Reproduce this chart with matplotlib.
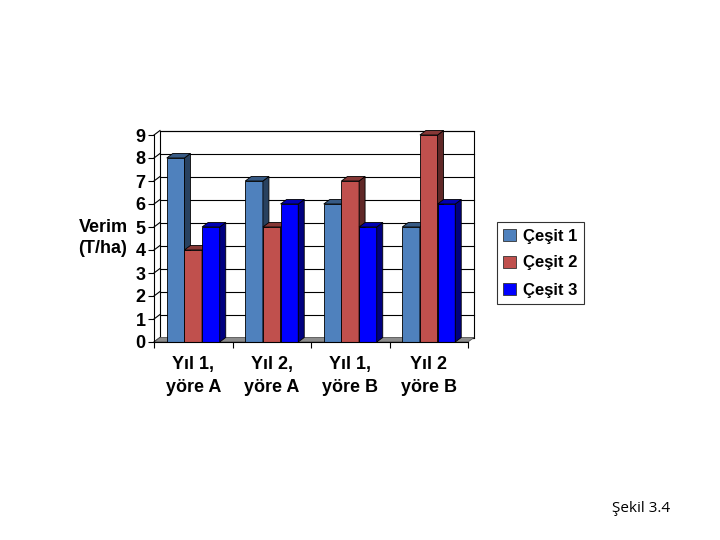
import numpy as np
import matplotlib
matplotlib.use('Agg')
import matplotlib.pyplot as plt
from matplotlib.patches import Polygon, Rectangle, Patch
from matplotlib.colors import to_rgb

# Data
categories = ['Yıl 1,\nyöre A', 'Yıl 2,\nyöre A', 'Yıl 1,\nyöre B', 'Yıl 2\nyöre B']
cesit1 = [8, 7, 6, 5]
cesit2 = [4, 5, 7, 9]
cesit3 = [5, 6, 5, 6]
seriesNames = ['Çeşit 1', 'Çeşit 2', 'Çeşit 3']
colors = ['#4F81BD', '#C0504D', '#0000FF']
yTicks = list(range(0, 10))

plt.rcParams['font.family'] = ['Liberation Sans', 'DejaVu Sans']

fig = plt.figure(figsize=(7.2, 5.4), dpi=100)
# axes = front plane of the 3D box (pixels: x 154..468, y 342..135)
ax = fig.add_axes([154 / 720, (540 - 342) / 540, (468 - 154) / 720, (342 - 135) / 540])
ax.set_xlim(0, 4)
ax.set_ylim(0, 9)

# depth offset in data units
dx = 6 / 78.5
dy = 4.5 / 23.0


def shade(c, f):
    r, g, b = to_rgb(c)
    return (r * f, g * f, b * f)


# Back wall + gridlines
ax.add_patch(Rectangle((dx, dy), 4, 9, facecolor='white', edgecolor='black', lw=0.8, clip_on=False, zorder=0))
for k in yTicks:
    ax.plot([dx, 4 + dx], [k + dy, k + dy], color='black', lw=0.8, clip_on=False, zorder=1)
    ax.plot([0, dx], [k, k + dy], color='black', lw=0.8, clip_on=False, zorder=1)

# Floor
ax.add_patch(Polygon([(0, 0), (4, 0), (4 + dx, dy), (dx, dy)], closed=True,
                     facecolor='#8c8c8c', edgecolor='#555555', lw=0.6, clip_on=False, zorder=2))

# Bars with 3D side/top faces
w = 0.225
allSeries = [cesit1, cesit2, cesit3]
z = 3
for i in range(len(categories)):
    for j, vals in enumerate(allSeries):
        h = vals[i]
        x0 = i + 0.5 - 1.5 * w + j * w
        c = colors[j]
        ax.bar(x0, h, width=w, align='edge', color=c, edgecolor='black', lw=0.6, zorder=z, clip_on=False)
        ax.add_patch(Polygon([(x0 + w, 0), (x0 + w + dx, dy), (x0 + w + dx, h + dy), (x0 + w, h)], closed=True,
                             facecolor=shade(c, 0.5), edgecolor='black', lw=0.6, zorder=z, clip_on=False))
        ax.add_patch(Polygon([(x0, h), (x0 + dx, h + dy), (x0 + w + dx, h + dy), (x0 + w, h)], closed=True,
                             facecolor=shade(c, 0.7), edgecolor='black', lw=0.6, zorder=z, clip_on=False))
        z += 1

# Axes styling
for s in ['top', 'right']:
    ax.spines[s].set_visible(False)
ax.spines['left'].set_linewidth(0.8)
ax.spines['bottom'].set_linewidth(0.8)
ax.spines['left'].set_zorder(30)
ax.spines['bottom'].set_zorder(30)
ax.set_yticks(yTicks)
ax.set_yticklabels([str(t) for t in yTicks], fontsize=13, fontweight='bold')
ax.tick_params(axis='y', length=4, width=0.8, pad=2)
ax.set_xticks([0, 1, 2, 3, 4])
ax.set_xticklabels([])
ax.tick_params(axis='x', which='major', length=4, width=0.8)
ax.set_xticks([0.5, 1.5, 2.5, 3.5], minor=True)
ax.set_xticklabels(categories, minor=True, fontsize=13, fontweight='bold', linespacing=1.45)
ax.tick_params(axis='x', which='minor', length=0, pad=10)

fig.text(103 / 720, 1 - 238 / 540, 'Verim\n(T/ha)', ha='center', va='center',
         fontsize=13, fontweight='bold', linespacing=1.3)

# Legend
handles = [Patch(facecolor=colors[k], edgecolor='#333333', lw=0.6) for k in range(3)]
leg = fig.legend(handles, seriesNames, loc='center left', bbox_to_anchor=(497 / 720, 1 - 263 / 540),
                 prop={'size': 12, 'weight': 'bold'}, frameon=True, fancybox=False,
                 handlelength=0.75, handleheight=0.75, handletextpad=0.45, labelspacing=0.72,
                 borderpad=0.38, borderaxespad=0)
leg.get_frame().set_edgecolor('black')
leg.get_frame().set_linewidth(0.8)

fig.text(612 / 720, 1 - 508 / 540, 'Şekil 3.4', ha='left', va='center', fontsize=11,
         family=['Open Sans', 'DejaVu Sans'])

fig.savefig('out.png', dpi=100)
